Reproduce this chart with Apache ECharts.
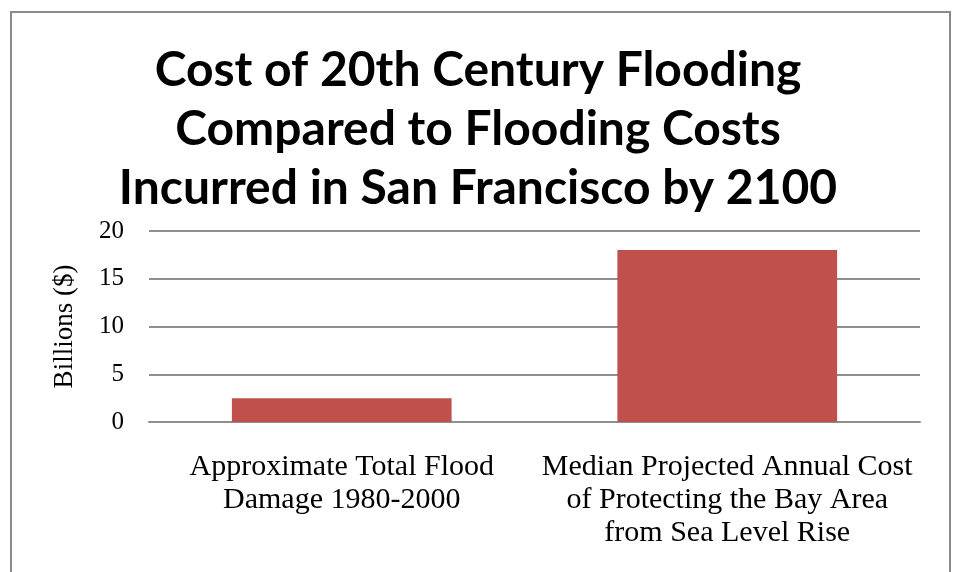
<!DOCTYPE html>
<html><head><meta charset="utf-8">
<script src="https://cdn.jsdelivr.net/npm/echarts@6/dist/echarts.min.js"></script>
<style>html,body{margin:0;padding:0;background:#fff}#c{width:956px;height:572px}</style>
</head><body><div id="c"></div>
<script>
const titleText = "Cost of 20th Century Flooding\nCompared to Flooding Costs\nIncurred in San Francisco by 2100";
const categories = ["Approximate Total Flood\nDamage 1980-2000", "Median Projected Annual Cost\nof Protecting the Bay Area\nfrom Sea Level Rise"];
const values = [2.5, 18];
const yAxisName = "Billions ($)";
const yMin = 0, yMax = 20, yInterval = 5;

const chart = echarts.init(document.getElementById('c'), null, {renderer: 'canvas'});
const serif = '"Liberation Serif", "DejaVu Serif", serif';
chart.setOption({
  animation: false,
  backgroundColor: '#fff',
  graphic: [{
    type: 'rect', z: -1, silent: true,
    shape: {x: 11, y: 12, width: 939, height: 600},
    style: {fill: 'none', stroke: '#8a8a8a', lineWidth: 2}
  }],
  title: {
    text: titleText,
    left: 'center', top: 36,
    textStyle: {fontFamily: 'Lato, "Liberation Sans", sans-serif', fontWeight: 'bold', fontSize: 48, lineHeight: 59, color: '#000'}
  },
  grid: {left: 149, right: 36, top: 231, bottom: 150},
  xAxis: {
    type: 'category', data: categories,
    axisLine: {lineStyle: {color: '#8e8e8e', width: 2}},
    axisTick: {show: false},
    axisLabel: {interval: 0, margin: 29, fontFamily: serif, fontSize: 30, lineHeight: 33, color: '#000'}
  },
  yAxis: {
    type: 'value', min: yMin, max: yMax, interval: yInterval,
    name: yAxisName, nameLocation: 'middle', nameGap: 71,
    nameTextStyle: {fontFamily: serif, fontSize: 27, color: '#000'},
    axisLine: {show: false}, axisTick: {show: false},
    axisLabel: {margin: 25, fontFamily: serif, fontSize: 25, color: '#000'},
    splitLine: {lineStyle: {color: '#8e8e8e', width: 2}}
  },
  series: [{
    type: 'bar', data: values, barCategoryGap: '43%',
    itemStyle: {color: '#c0504d'}
  }]
});
</script></body></html>
